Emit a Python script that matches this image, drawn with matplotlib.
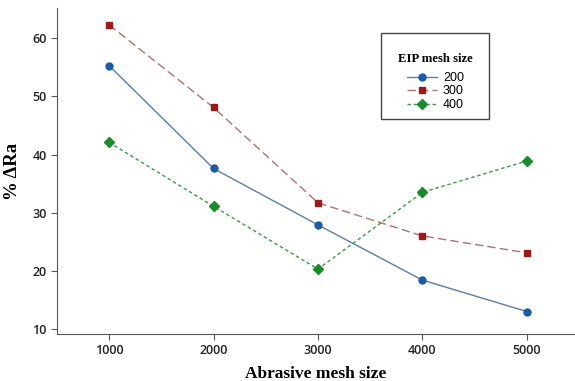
import matplotlib
matplotlib.use("Agg")
import matplotlib.pyplot as plt
from matplotlib.patches import Rectangle

abrasive = [1000, 2000, 3000, 4000, 5000]
eip_200 = [55.3, 37.6, 27.9, 18.4, 13.0]
eip_300 = [62.3, 48.1, 31.7, 26.0, 23.1]
eip_400 = [42.1, 31.1, 20.3, 33.5, 38.9]

fig = plt.figure(figsize=(5.75, 3.81), dpi=100)
ax = fig.add_axes([57/575, 47/381, 518/575, 326/381])

ax.plot(abrasive, eip_200, '-', color='#5b7fa6', lw=1.0,
        marker='o', ms=5, mfc='#1a5aa6', mec='#1a5aa6', label='200')
ax.plot(abrasive, eip_300, '--', color='#b07070', lw=1.0, dashes=(6, 3),
        marker='s', ms=5, mfc='#9a1a1a', mec='#9a1a1a', label='300')
ax.plot(abrasive, eip_400, '--', color='#3a9a4a', lw=1.0, dashes=(2.5, 2),
        marker='D', ms=5, mfc='#1a8a2a', mec='#1a8a2a', label='400')

ax.set_xlim(502, 5460)
ax.set_ylim(9.14, 65.2)
ax.set_xticks(abrasive)
ax.set_yticks([10, 20, 30, 40, 50, 60])
ax.spines['top'].set_visible(False)
ax.spines['right'].set_visible(False)
for s in ['left', 'bottom']:
    ax.spines[s].set_color('#555555')
ax.tick_params(colors='#555555', labelcolor='#222222', labelsize=9, length=4)
for t in ax.get_xticklabels() + ax.get_yticklabels():
    t.set_fontfamily('Open Sans')
    t.set_fontweight('semibold')

ax.set_xlabel('Abrasive mesh size', family='Liberation Serif', fontweight='bold',
              fontsize=12.5, labelpad=6)
ax.set_ylabel('% ΔRa', family='Liberation Serif', fontweight='bold',
              fontsize=13.5, labelpad=8)

# legend frame drawn separately (box has more room on top than at bottom)
fig.patches.append(Rectangle((381/575, 1 - 119/381), 108/575, 86/381,
                             transform=fig.transFigure, fill=False,
                             edgecolor='#444444', lw=1.0))
leg = ax.legend(title='EIP mesh size', loc='upper left',
                bbox_to_anchor=(398/575, 1 - 53/381), bbox_transform=fig.transFigure,
                frameon=False,
                prop={'family': 'Liberation Sans', 'size': 9},
                title_fontproperties={'family': 'Liberation Serif', 'weight': 'bold', 'size': 9.2},
                handlelength=2.4, handletextpad=0.5, borderpad=0,
                labelspacing=0.12, borderaxespad=0)
leg._legend_box.sep = 5

fig.savefig('out.png', dpi=100)
